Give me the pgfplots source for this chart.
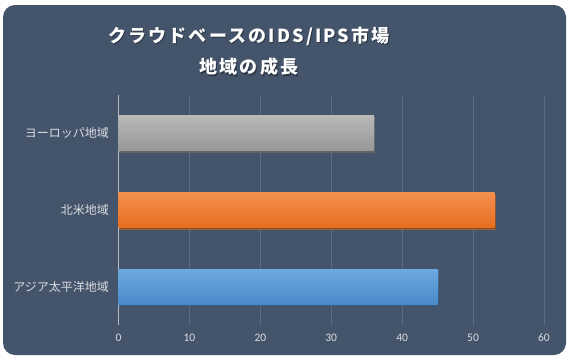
\documentclass[border=0pt]{standalone}
\usepackage{pgfplots}
\pgfplotsset{compat=1.18}
\usepackage{fontspec}
\setmainfont{Carlito}
\newfontfamily\cjk{Noto Sans CJK JP}
\newfontfamily\cjktitle{Noto Sans CJK JP}[LetterSpace=12]
\usetikzlibrary{shadows}
\definecolor{bg}{HTML}{44546A}
\definecolor{gridc}{HTML}{5D6C80}
\definecolor{axc}{HTML}{B4BAC3}
\definecolor{labc}{HTML}{DADDE2}
\definecolor{grayT}{HTML}{B8B8B8}
\definecolor{grayB}{HTML}{979797}
\definecolor{oraT}{HTML}{F4914F}
\definecolor{oraB}{HTML}{E56D1E}
\definecolor{bluT}{HTML}{6DA9E0}
\definecolor{bluB}{HTML}{4A8ACB}
\begin{document}
\begin{tikzpicture}[x=1pt,y=1pt]
\fill[white] (0,0) rectangle (571,-362);
\fill[bg, rounded corners=12pt] (3,-5) rectangle (566,-355);
\node[text=black, opacity=0.35, font=\cjktitle\bfseries\fontsize{18}{22}\selectfont] at (250,-37.2) {クラウドベースのIDS/IPS市場};
\node[text=white, font=\cjktitle\bfseries\fontsize{18}{22}\selectfont] at (249,-36) {クラウドベースのIDS/IPS市場};
\node[text=black, opacity=0.35, font=\cjktitle\bfseries\fontsize{18}{22}\selectfont] at (250,-68.2) {地域の成長};
\node[text=white, font=\cjktitle\bfseries\fontsize{18}{22}\selectfont] at (249,-67) {地域の成長};
\begin{axis}[
  at={(118.5pt,-325pt)}, anchor=south west,
  scale only axis, width=425.5pt, height=230pt,
  xmin=0, xmax=60, ymin=-0.5, ymax=2.5,
  xbar, bar width=35pt,
  ytick={0,1,2},
  yticklabels={アジア太平洋地域,北米地域,ヨーロッパ地域},
  xtick={0,10,...,60},
  xmajorgrids,
  grid style={gridc, line width=0.6pt},
  axis line style={draw=none},
  major tick length=0pt,
  tick label style={text=labc},
  yticklabel style={font=\cjk\fontsize{12}{14}\selectfont, xshift=-6pt},
  xticklabel style={font=\fontsize{11.5}{13}\selectfont, yshift=-5pt},
  extra x ticks={0}, extra x tick labels={},
  extra x tick style={grid style={axc, line width=0.9pt}},
  /pgf/number format/assume math mode=true,
]
\addplot[draw=none, bar shift=0pt, top color=grayT, bottom color=grayB,
  drop shadow={shadow xshift=1.2pt, shadow yshift=-1.8pt, opacity=0.55, fill=black}]
  coordinates {(36,2)};
\addplot[draw=none, bar shift=0pt, top color=oraT, bottom color=oraB,
  drop shadow={shadow xshift=1.2pt, shadow yshift=-1.8pt, opacity=0.55, fill=black}]
  coordinates {(53,1)};
\addplot[draw=none, bar shift=0pt, top color=bluT, bottom color=bluB,
  drop shadow={shadow xshift=1.2pt, shadow yshift=-1.8pt, opacity=0.55, fill=black}]
  coordinates {(45,0)};
\end{axis}
\end{tikzpicture}
\end{document}
